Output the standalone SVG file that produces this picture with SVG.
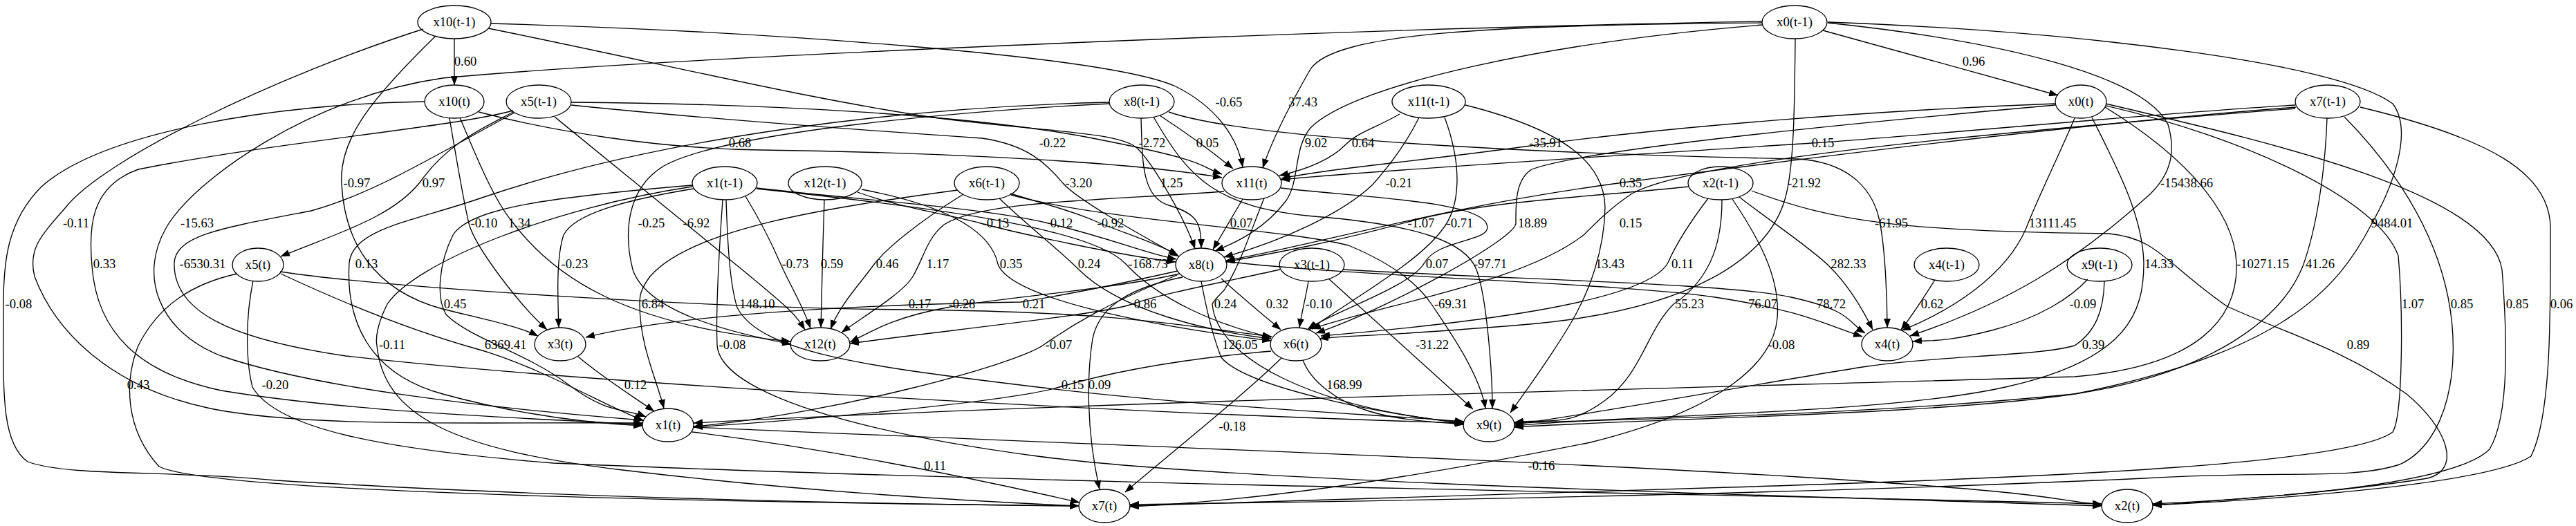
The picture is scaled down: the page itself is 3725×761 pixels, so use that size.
<svg xmlns="http://www.w3.org/2000/svg" width="3725" height="761" viewBox="0 0 3725 761">
<defs>
<marker id="ah" markerWidth="14" markerHeight="10" refX="13" refY="5" orient="auto" markerUnits="userSpaceOnUse"><path d="M0,0 L13.3,5 L0,10 z" fill="#000"/></marker>
<style>
text{font-family:"Liberation Serif","Times New Roman",serif;font-size:18.67px;fill:#000;text-anchor:middle}
.nd ellipse{fill:none;stroke:#000;stroke-width:1.33}
#edges path{fill:none;stroke:#000;stroke-width:1.33;marker-end:url(#ah)}
</style>
</defs>
<rect width="3725" height="761" fill="#fff"/>
<g id="edges">
<path d="M657,56 L657,123"/><text x="673" y="95">0.60</text>
<path d="M2636,44 L2976,138"/><text x="2854" y="95">0.96</text>
<path d="M709,34 C1100,45 1600,80 1700,125 C1760,155 1790,200 1797,242"/><text x="1777" y="154">-0.65</text>
<path d="M2548,33 C2150,36 1930,48 1895,100 C1872,140 1840,200 1826,243"/><text x="1884" y="154">37.43</text>
<path d="M2549,36 C2250,60 1960,120 1895,185 C1870,215 1880,260 1860,290 C1830,330 1790,350 1757,363"/><text x="1903" y="213">9.02</text>
<path d="M2024,165 C1990,185 1965,190 1945,210 S1890,245 1850,254"/><text x="1971" y="213">0.64</text>
<path d="M2972,150 C2700,160 2400,185 2220,210 S1950,240 1853,258"/><text x="2235" y="213">-35.91</text>
<path d="M826,148 C1100,150 1400,165 1580,200 S1730,240 1767,252"/><text x="1522" y="213">-0.22</text>
<path d="M706,41 C950,90 1150,140 1350,170 C1500,190 1620,190 1645,215 C1670,240 1715,320 1728,360"/><text x="1666" y="213">-2.72</text>
<path d="M1677,167 Q1735,205 1783,244"/><text x="1746" y="213">0.05</text>
<path d="M692,162 C800,190 950,215 1100,217 S1600,228 1767,257"/><text x="1070" y="213">0.68</text>
<path d="M3319,152 C3100,165 2800,195 2620,207 S2000,245 1852,260"/><text x="2636" y="213">0.15</text>
<path d="M630,52 C540,140 490,200 494,265 C498,350 540,420 640,447 C700,462 750,472 778,486"/><text x="516" y="271">-0.97</text>
<path d="M742,162 C700,185 650,205 610,260 S480,340 406,371"/><text x="627" y="271">0.97</text>
<path d="M826,152 C1000,170 1200,185 1420,200 C1490,210 1515,240 1537,265 S1650,340 1705,371"/><text x="1560" y="271">-3.20</text>
<path d="M1650,171 C1652,230 1650,285 1690,297 S1737,320 1737,359"/><text x="1694" y="271">1.25</text>
<path d="M2052,170 C2030,215 2000,250 1985,267 C1940,310 1850,350 1770,372"/><text x="2023" y="271">-0.21</text>
<path d="M3320,155 C3000,180 2600,230 2340,265 S1900,355 1773,377"/><text x="2358" y="271">0.35</text>
<path d="M2596,56 C2595,160 2594,240 2582,285 C2560,370 2450,450 2200,470 S1960,484 1908,490"/><text x="2609" y="271">-21.92</text>
<path d="M2643,33 C2900,60 3100,110 3135,180 C3150,230 3130,260 3110,280 C3000,380 2900,440 2762,486"/><text x="3162" y="271">-15438.66</text>
<path d="M612,42 C400,110 150,230 95,300 C60,340 40,360 50,400 C80,480 160,560 300,590 S700,610 929,612"/><text x="110" y="329">-0.11</text>
<path d="M2548,31 C2000,40 1000,80 640,113 C450,140 280,260 240,330 C200,400 230,480 320,515 C450,560 700,590 930,608"/><text x="285" y="329">-15.63</text>
<path d="M650,171 C660,230 670,290 678,323 S750,440 791,477"/><text x="700" y="329">-0.10</text>
<path d="M665,170 C690,230 715,290 740,320 C800,400 900,470 1143,494"/><text x="751" y="329">1.34</text>
<path d="M1604,150 C1400,160 1050,190 960,240 C910,270 900,330 915,390 C935,450 1050,480 1144,498"/><text x="942" y="329">-0.25</text>
<path d="M802,169 C900,250 1000,330 1073,390 S1150,455 1164,477"/><text x="1007" y="329">-6.92</text>
<path d="M1240,278 C1300,300 1370,310 1418,323 S1620,370 1700,379"/><text x="1440" y="329">-0.13</text>
<path d="M1094,272 C1250,290 1420,300 1516,323 S1650,365 1701,375"/><text x="1535" y="329">0.12</text>
<path d="M1461,280 C1510,295 1550,305 1584,320 S1670,350 1703,369"/><text x="1606" y="329">-0.92</text>
<path d="M1797,288 L1754,361"/><text x="1795" y="329">0.07</text>
<path d="M2442,270 C2300,285 2150,290 2040,320 S1850,365 1772,379"/><text x="2055" y="329">-1.07</text>
<path d="M2089,170 C2115,240 2112,300 2085,333 C2050,380 1960,430 1893,477"/><text x="2111" y="329">-0.71</text>
<path d="M2972,152 C2600,185 2280,220 2215,245 C2190,260 2192,300 2192,323 S2000,450 1903,482"/><text x="2216" y="329">18.89</text>
<path d="M3319,157 C2900,190 2450,230 2360,280 C2330,300 2310,320 2290,340 C2200,410 2000,440 1897,476"/><text x="2358" y="329">0.15</text>
<path d="M1690,162 C1800,200 2200,222 2600,230 C2680,235 2710,280 2718,320 S2729,430 2729,474"/><text x="2735" y="329">-61.95</text>
<path d="M3000,171 C2975,230 2945,290 2930,330 C2900,400 2820,450 2750,478"/><text x="2968" y="329">13111.45</text>
<path d="M2643,32 C3000,45 3380,90 3460,150 C3490,190 3460,270 3430,323 C3380,420 3300,510 3000,570 C2700,600 2400,605 2190,612"/><text x="3459" y="329">9484.01</text>
<path d="M742,160 C650,185 400,205 200,245 C130,270 128,330 133,385 C140,480 200,540 320,565 C500,595 750,605 929,614"/><text x="151" y="388">0.33</text>
<path d="M744,163 C620,230 540,280 450,305 C320,330 255,340 252,380 C250,450 330,490 500,515 C900,560 1700,600 2116,612"/><text x="293" y="388">-6530.31</text>
<path d="M1604,148 C1300,155 950,200 700,285 C600,320 510,330 505,380 C500,460 530,540 640,570 C750,600 850,612 929,616"/><text x="530" y="388">0.13</text>
<path d="M1003,273 C900,290 830,310 815,340 C805,370 806,420 808,474"/><text x="831" y="388">-0.23</text>
<path d="M1078,284 C1100,320 1115,350 1128,380 S1160,440 1172,475"/><text x="1150" y="388">-0.73</text>
<path d="M1192,289 C1190,350 1188,420 1187,474"/><text x="1203" y="388">0.59</text>
<path d="M1393,281 C1330,320 1280,360 1262,385 S1215,440 1201,476"/><text x="1283" y="388">0.46</text>
<path d="M1770,277 C1600,290 1420,290 1365,325 C1340,345 1335,375 1320,400 S1245,460 1217,481"/><text x="1356" y="388">1.17</text>
<path d="M1246,274 C1330,290 1430,320 1443,382 C1460,430 1650,470 1838,493"/><text x="1462" y="388">0.35</text>
<path d="M1445,287 C1490,330 1530,360 1560,390 C1620,450 1750,480 1838,490"/><text x="1575" y="388">0.24</text>
<path d="M1094,273 C1350,300 1580,330 1628,382 S1760,470 1838,488"/><text x="1660" y="388">-168.73</text>
<path d="M1852,272 C1960,285 2140,290 2150,325 C2160,350 2080,345 2060,380 S1930,450 1891,476"/><text x="2078" y="388">0.07</text>
<path d="M1668,169 C1720,260 1760,300 1900,313 C2050,325 2120,350 2135,390 S2158,540 2158,591"/><text x="2155" y="388">-97.71</text>
<path d="M2119,152 C2270,190 2320,240 2321,300 C2320,360 2300,420 2270,470 S2200,575 2184,597"/><text x="2328" y="388">13.43</text>
<path d="M2470,287 C2445,320 2425,350 2412,380 C2380,440 2100,470 1910,486"/><text x="2433" y="388">0.11</text>
<path d="M2515,285 C2560,320 2620,360 2645,385 S2690,440 2708,477"/><text x="2673" y="388">282.33</text>
<path d="M3025,170 C3060,240 3098,310 3100,380 C3100,450 3080,520 2900,560 S2350,600 2190,616"/><text x="3122" y="388">14.33</text>
<path d="M3044,155 C3150,220 3230,300 3234,380 C3237,460 3180,530 3000,545 C2500,560 1600,580 1003,612"/><text x="3272" y="388">-10271.15</text>
<path d="M3365,171 C3362,250 3350,330 3330,385 C3300,460 3200,540 3000,570 S2400,605 2190,618"/><text x="3355" y="388">41.26</text>
<path d="M614,147 C400,150 150,190 60,270 C10,320 5,380 5,440 C5,560 0,640 40,668 C100,690 250,680 400,695 C800,720 1300,730 1560,732"/><text x="27" y="446">-0.08</text>
<path d="M1001,268 C800,285 680,300 655,340 C635,380 630,430 645,455 C680,490 760,510 820,555 S900,590 934,603"/><text x="658" y="446">0.45</text>
<path d="M1385,275 C1200,300 1000,330 940,400 C925,420 925,430 925,440 C925,500 950,550 960,591"/><text x="944" y="446">6.84</text>
<path d="M1050,289 C1052,350 1055,410 1066,445 C1100,510 1250,530 1500,560 S2000,600 2117,610"/><text x="1095" y="446">148.10</text>
<path d="M405,393 C550,415 1000,445 1310,448 S1700,470 1839,487"/><text x="1330" y="446">0.17</text>
<path d="M1706,396 C1600,420 1450,430 1369,445 S1260,480 1229,495"/><text x="1391" y="446">-0.28</text>
<path d="M1703,392 C1600,415 1520,430 1476,437 C1300,440 1000,450 847,488"/><text x="1495" y="446">0.21</text>
<path d="M1851,390 C1760,410 1680,425 1637,440 S1350,480 1229,497"/><text x="1656" y="446">0.86</text>
<path d="M1828,287 C1810,330 1795,380 1770,420 C1760,430 1755,435 1753,440 C1760,520 1900,590 2117,612"/><text x="1772" y="446">0.24</text>
<path d="M1766,403 C1790,425 1820,450 1852,477"/><text x="1847" y="446">0.32</text>
<path d="M1892,407 C1888,430 1882,455 1879,474"/><text x="1907" y="446">-0.10</text>
<path d="M1462,282 C1600,320 1850,330 1950,355 C2010,380 2050,410 2070,440 S2140,540 2148,591"/><text x="2098" y="446">-69.31</text>
<path d="M2490,289 C2490,340 2480,400 2420,440 C2380,480 2375,540 2320,580 S2240,605 2190,611"/><text x="2443" y="446">55.23</text>
<path d="M1772,378 C1950,400 2350,410 2480,430 S2640,470 2693,487"/><text x="2549" y="446">76.07</text>
<path d="M1942,390 C2200,405 2500,410 2590,430 S2670,465 2697,482"/><text x="2648" y="446">78.72</text>
<path d="M2798,405 C2785,425 2770,450 2749,477"/><text x="2794" y="446">0.62</text>
<path d="M3019,404 C2995,430 2950,460 2880,478 S2790,492 2766,494"/><text x="3012" y="446">-0.09</text>
<path d="M3045,153 C3250,200 3440,290 3468,370 C3475,450 3475,600 3460,625 C3400,670 3000,690 2500,705 C2100,718 1800,728 1634,732"/><text x="3489" y="446">1.07</text>
<path d="M3390,169 C3460,240 3520,330 3540,430 C3560,530 3540,640 3470,672 C3400,695 3300,680 3100,692 C2600,715 2000,725 1634,730"/><text x="3560" y="446">0.85</text>
<path d="M3045,150 C3300,210 3600,280 3618,390 C3625,480 3630,600 3600,650 C3550,700 3300,720 3113,729"/><text x="3640" y="446">0.85</text>
<path d="M3413,155 C3600,200 3688,250 3688,330 C3688,450 3690,600 3660,660 C3600,700 3300,722 3113,731"/><text x="3704" y="446">0.06</text>
<path d="M1001,270 C800,300 600,380 560,440 C545,470 543,490 545,500 C555,600 650,650 900,680 S1400,725 1560,732"/><text x="567" y="505">-0.11</text>
<path d="M406,396 C500,440 600,480 690,505 S880,590 930,608"/><text x="731" y="505">6369.41</text>
<path d="M1045,289 C1040,360 1035,450 1037,499 C1040,560 1200,620 1500,660 S2700,720 3039,732"/><text x="1059" y="505">-0.08</text>
<path d="M1702,398 C1600,440 1550,470 1509,499 S1200,600 1003,617"/><text x="1531" y="505">-0.07</text>
<path d="M1737,407 C1745,450 1755,490 1766,517 C1800,560 2000,600 2117,612"/><text x="1793" y="505">126.05</text>
<path d="M1921,403 L2130,592"/><text x="2071" y="505">-31.22</text>
<path d="M2505,288 C2540,340 2575,400 2570,460 C2565,520 2500,590 2300,640 C2000,700 1800,725 1634,733"/><text x="2576" y="505">-0.08</text>
<path d="M3043,407 C3042,450 3030,480 3000,500 C2950,515 2800,515 2700,530 S2300,600 2190,614"/><text x="3027" y="505">0.39</text>
<path d="M2533,276 C2650,320 2750,335 3050,338 C3120,345 3130,380 3220,443 C3300,480 3390,505 3480,570 C3540,620 3560,680 3510,692 C3400,710 3200,725 3113,731"/><text x="3410" y="505">0.89</text>
<path d="M343,396 C280,410 230,440 200,500 C180,550 180,620 230,675 C300,710 900,725 1560,732"/><text x="200" y="563">0.43</text>
<path d="M366,406 C355,460 355,520 365,560 C400,620 550,650 800,670 C1500,700 2500,715 3039,729"/><text x="398" y="563">-0.20</text>
<path d="M836,516 C870,545 910,570 946,595"/><text x="919" y="563">0.12</text>
<path d="M1838,508 C1700,520 1600,540 1532,560 S1200,605 1003,618"/><text x="1551" y="563">0.15</text>
<path d="M1710,401 C1640,415 1590,440 1580,490 C1572,540 1570,620 1590,708"/><text x="1590" y="563">0.09</text>
<path d="M1884,521 C1895,550 1930,580 1980,595 S2080,610 2117,614"/><text x="1944" y="563">168.99</text>
<path d="M1853,518 C1800,570 1700,650 1627,712"/><text x="1782" y="623">-0.18</text>
<path d="M1001,625 C1200,650 1400,690 1561,727"/><text x="1352" y="680">0.11</text>
<path d="M1002,618 C1500,640 2200,665 2600,690 S2950,722 3040,730"/><text x="2229" y="680">-0.16</text>
</g>
<g id="n_x10_tm1" class="nd"><ellipse cx="657" cy="32" rx="53" ry="24"/><text x="657" y="38">x10(t-1)</text></g>
<g id="n_x0_tm1" class="nd"><ellipse cx="2595" cy="32" rx="47" ry="24"/><text x="2595" y="38">x0(t-1)</text></g>
<g id="n_x10_t" class="nd"><ellipse cx="657" cy="147" rx="43" ry="24"/><text x="657" y="153">x10(t)</text></g>
<g id="n_x5_tm1" class="nd"><ellipse cx="779" cy="147" rx="47" ry="24"/><text x="779" y="153">x5(t-1)</text></g>
<g id="n_x8_tm1" class="nd"><ellipse cx="1651" cy="147" rx="47" ry="24"/><text x="1651" y="153">x8(t-1)</text></g>
<g id="n_x11_tm1" class="nd"><ellipse cx="2066" cy="147" rx="53" ry="24"/><text x="2066" y="153">x11(t-1)</text></g>
<g id="n_x0_t" class="nd"><ellipse cx="3009" cy="147" rx="37" ry="24"/><text x="3009" y="153">x0(t)</text></g>
<g id="n_x7_tm1" class="nd"><ellipse cx="3366" cy="147" rx="47" ry="24"/><text x="3366" y="153">x7(t-1)</text></g>
<g id="n_x1_tm1" class="nd"><ellipse cx="1048" cy="265" rx="47" ry="24"/><text x="1048" y="271">x1(t-1)</text></g>
<g id="n_x12_tm1" class="nd"><ellipse cx="1193" cy="265" rx="53" ry="24"/><text x="1193" y="271">x12(t-1)</text></g>
<g id="n_x6_tm1" class="nd"><ellipse cx="1427" cy="265" rx="47" ry="24"/><text x="1427" y="271">x6(t-1)</text></g>
<g id="n_x11_t" class="nd"><ellipse cx="1810" cy="265" rx="43" ry="24"/><text x="1810" y="271">x11(t)</text></g>
<g id="n_x2_tm1" class="nd"><ellipse cx="2488" cy="265" rx="47" ry="24"/><text x="2488" y="271">x2(t-1)</text></g>
<g id="n_x5_t" class="nd"><ellipse cx="373" cy="383" rx="37" ry="24"/><text x="373" y="389">x5(t)</text></g>
<g id="n_x8_t" class="nd"><ellipse cx="1737" cy="383" rx="37" ry="24"/><text x="1737" y="389">x8(t)</text></g>
<g id="n_x3_tm1" class="nd"><ellipse cx="1897" cy="383" rx="47" ry="24"/><text x="1897" y="389">x3(t-1)</text></g>
<g id="n_x4_tm1" class="nd"><ellipse cx="2815" cy="383" rx="47" ry="24"/><text x="2815" y="389">x4(t-1)</text></g>
<g id="n_x9_tm1" class="nd"><ellipse cx="3036" cy="383" rx="47" ry="24"/><text x="3036" y="389">x9(t-1)</text></g>
<g id="n_x3_t" class="nd"><ellipse cx="810" cy="498" rx="37" ry="24"/><text x="810" y="504">x3(t)</text></g>
<g id="n_x12_t" class="nd"><ellipse cx="1186" cy="498" rx="43" ry="24"/><text x="1186" y="504">x12(t)</text></g>
<g id="n_x6_t" class="nd"><ellipse cx="1874" cy="498" rx="37" ry="24"/><text x="1874" y="504">x6(t)</text></g>
<g id="n_x4_t" class="nd"><ellipse cx="2729" cy="498" rx="37" ry="24"/><text x="2729" y="504">x4(t)</text></g>
<g id="n_x1_t" class="nd"><ellipse cx="966" cy="615" rx="37" ry="24"/><text x="966" y="621">x1(t)</text></g>
<g id="n_x9_t" class="nd"><ellipse cx="2153" cy="615" rx="37" ry="24"/><text x="2153" y="621">x9(t)</text></g>
<g id="n_x7_t" class="nd"><ellipse cx="1597" cy="732" rx="37" ry="24"/><text x="1597" y="738">x7(t)</text></g>
<g id="n_x2_t" class="nd"><ellipse cx="3076" cy="732" rx="37" ry="24"/><text x="3076" y="738">x2(t)</text></g>
</svg>
